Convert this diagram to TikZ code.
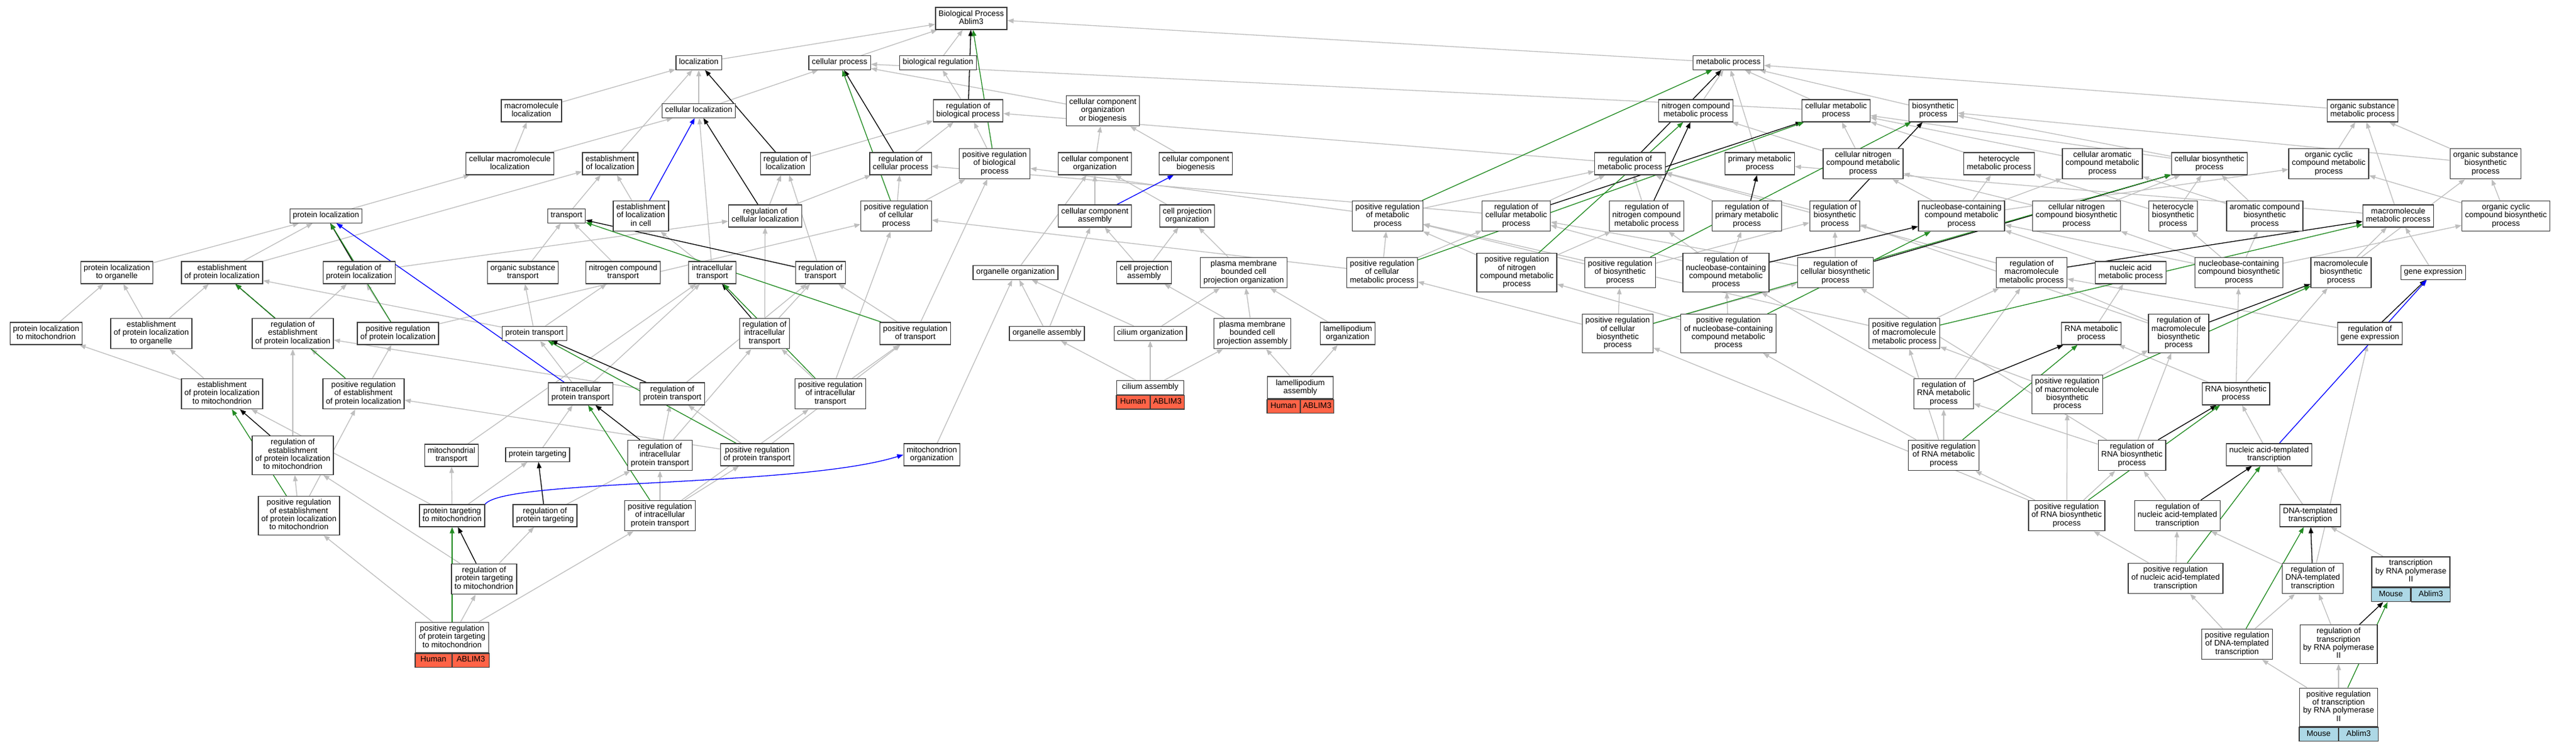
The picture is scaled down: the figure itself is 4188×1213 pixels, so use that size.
\documentclass[tikz,border=0pt]{standalone}
\usepackage{fontspec}
\setmainfont{Liberation Sans}
\usetikzlibrary{arrows.meta}
\pgfdeclarelayer{edges}
\pgfsetlayers{edges,main}

\tikzset{every picture/.style={line width=0.75pt}}
\tikzset{
  term/.style={draw={rgb, 255:red, 60; green, 60; blue, 60 }, fill=white, line width=1.3pt, align=center,
    inner xsep=5pt, inner ysep=4.5pt, font=\fontsize{13}{13.4}\selectfont,
    execute at begin node=\strut, execute at end node=\strut},
  human/.style={term, inner xsep=2pt, minimum height=22pt, fill={rgb, 255:red, 255; green, 99; blue, 71 }},
  mouse/.style={term, inner xsep=2pt, minimum height=22pt, fill={rgb, 255:red, 173; green, 216; blue, 230 }},
  isa/.style={draw={rgb, 255:red, 190; green, 190; blue, 190 }, line width=1.3pt, -{Triangle[length=10pt,width=7.5pt]}},
  regulates/.style={isa, draw=black},
  posreg/.style={isa, draw={rgb, 255:red, 34; green, 139; blue, 34 }},
  partof/.style={isa, draw={rgb, 255:red, 0; green, 0; blue, 255 }},
}

\begin{document}
\begin{tikzpicture}[x=1pt,y=1pt,yscale=-1,xscale=1]
%set diagram size: 4188 x 1213
\useasboundingbox (0,0) rectangle (4188,1213);

% Terms, top row
\node [term] (bp) at (1579,30) {Biological Process\\Ablim3};
% Terms, row 1
\node [term] (loc) at (1136,102) {localization};
\node [term] (cellproc) at (1365,102) {cellular process};
\node [term] (breg) at (1525,102) {biological regulation};
\node [term] (metab) at (2810,102) {metabolic process};
% Terms, row 2
\node [term] (mmloc) at (864,180) {macromolecule\\localization};
\node [term] (cloc) at (1136,180) {cellular localization};
\node [term] (rbp) at (1574,180) {regulation of\\biological process};
\node [term] (ccob) at (1793,180) {cellular component\\organization\\or biogenesis};
\node [term] (ncmp) at (2757,180) {nitrogen compound\\metabolic process};
\node [term] (cmp) at (2985,180) {cellular metabolic\\process};
\node [term] (bsp) at (3143,180) {biosynthetic\\process};
\node [term] (osmp) at (3841,180) {organic substance\\metabolic process};
% Terms, row 3
\node [term] (cmmloc) at (829,266) {cellular macromolecule\\localization};
\node [term] (eloc) at (992,266) {establishment\\of localization};
\node [term] (rloc) at (1277,266) {regulation of\\localization};
\node [term] (rcp) at (1464,266) {regulation of\\cellular process};
\node [term] (prbp) at (1617,266) {positive regulation\\of biological\\process};
\node [term] (cco) at (1780,266) {cellular component\\organization};
\node [term] (ccb) at (1944,266) {cellular component\\biogenesis};
\node [term] (rmp) at (2650,266) {regulation of\\metabolic process};
\node [term] (pmp) at (2861,266) {primary metabolic\\process};
\node [term] (cncmp) at (3029,266) {cellular nitrogen\\compound metabolic\\process};
\node [term] (hmp) at (3250,266) {heterocycle\\metabolic process};
\node [term] (camp) at (3418,266) {cellular aromatic\\compound metabolic\\process};
\node [term] (cbsp) at (3592,266) {cellular biosynthetic\\process};
\node [term] (occmp) at (3786,266) {organic cyclic\\compound metabolic\\process};
\node [term] (osbsp) at (4041,266) {organic substance\\biosynthetic\\process};
% Terms, row 4
\node [term] (ploc) at (530,351) {protein localization};
\node [term] (transport) at (921,351) {transport};
\node [term] (elocc) at (1042,351) {establishment\\of localization\\in cell};
\node [term] (rcloc) at (1244,351) {regulation of\\cellular localization};
\node [term] (prcp) at (1457,351) {positive regulation\\of cellular\\process};
\node [term] (cca) at (1780,351) {cellular component\\assembly};
\node [term] (cpo) at (1930,351) {cell projection\\organization};
\node [term] (prmp) at (2256,351) {positive regulation\\of metabolic\\process};
\node [term] (rcmp) at (2465,351) {regulation of\\cellular metabolic\\process};
\node [term] (rncmp) at (2677,351) {regulation of\\nitrogen compound\\metabolic process};
\node [term] (rpmp) at (2840,351) {regulation of\\primary metabolic\\process};
\node [term] (rbsp) at (2983,351) {regulation of\\biosynthetic\\process};
\node [term] (nccmp) at (3189,351) {nucleobase-containing\\compound metabolic\\process};
\node [term] (cncbsp) at (3376,351) {cellular nitrogen\\compound biosynthetic\\process};
\node [term] (hbsp) at (3533,351) {heterocycle\\biosynthetic\\process};
\node [term] (acbsp) at (3682,351) {aromatic compound\\biosynthetic\\process};
\node [term] (mmmp) at (3899,351) {macromolecule\\metabolic process};
\node [term] (occbsp) at (4074,351) {organic cyclic\\compound biosynthetic\\process};
% Terms, row 5
\node [term] (plocorg) at (190,443) {protein localization\\to organelle};
\node [term] (eploc) at (361,443) {establishment\\of protein localization};
\node [term] (rploc) at (584,443) {regulation of\\protein localization};
\node [term] (ostrans) at (850,443) {organic substance\\transport};
\node [term] (nctrans) at (1013,443) {nitrogen compound\\transport};
\node [term] (ictrans) at (1158,443) {intracellular\\transport};
\node [term] (rtrans) at (1334,443) {regulation of\\transport};
\node [term] (oorg) at (1651,443) {organelle organization};
\node [term] (cpa) at (1860,443) {cell projection\\assembly};
\node [term] (pmbcpo) at (2022,443) {plasma membrane\\bounded cell\\projection organization};
\node [term] (prcmp) at (2247,443) {positive regulation\\of cellular\\metabolic process};
\node [term] (prncmp) at (2466,443) {positive regulation\\of nitrogen\\compound metabolic\\process};
\node [term] (prbsp) at (2634,443) {positive regulation\\of biosynthetic\\process};
\node [term] (rnccmp) at (2806,443) {regulation of\\nucleobase-containing\\compound metabolic\\process};
\node [term] (rcbsp) at (2984,443) {regulation of\\cellular biosynthetic\\process};
\node [term] (rmmp) at (3303,443) {regulation of\\macromolecule\\metabolic process};
\node [term] (namp) at (3464,443) {nucleic acid\\metabolic process};
\node [term] (nccbsp) at (3640,443) {nucleobase-containing\\compound biosynthetic\\process};
\node [term] (mmbsp) at (3806,443) {macromolecule\\biosynthetic\\process};
\node [term] (gexp) at (3956,443) {gene expression};
% Terms, row 6
\node [term] (plocmito) at (75,542) {protein localization\\to mitochondrion};
\node [term] (eplocorg) at (246,542) {establishment\\of protein localization\\to organelle};
\node [term] (reploc) at (476,542) {regulation of\\establishment\\of protein localization};
\node [term] (prploc) at (647,542) {positive regulation\\of protein localization};
\node [term] (ptrans) at (869,542) {protein transport};
\node [term] (rictrans) at (1243,542) {regulation of\\intracellular\\transport};
\node [term] (prtrans) at (1488,542) {positive regulation\\of transport};
\node [term] (oasm) at (1702,542) {organelle assembly};
\node [term] (corg) at (1870,542) {cilium organization};
\node [term] (pmbcpa) at (2036,542) {plasma membrane\\bounded cell\\projection assembly};
\node [term] (lorg) at (2191,542) {lamellipodium\\organization};
\node [term] (prcbsp) at (2630,542) {positive regulation\\of cellular\\biosynthetic\\process};
\node [term] (prnccmp) at (2810,542) {positive regulation\\of nucleobase-containing\\compound metabolic\\process};
\node [term] (prmmp) at (3096,542) {positive regulation\\of macromolecule\\metabolic process};
\node [term] (rnamp) at (3400,542) {RNA metabolic\\process};
\node [term] (rmmbsp) at (3542,542) {regulation of\\macromolecule\\biosynthetic\\process};
\node [term] (rgexp) at (3853,542) {regulation of\\gene expression};
% Terms, row 7
\node [term] (eplocmito) at (361,640) {establishment\\of protein localization\\to mitochondrion};
\node [term] (preploc) at (591,640) {positive regulation\\of establishment\\of protein localization};
\node [term] (icptrans) at (944,640) {intracellular\\protein transport};
\node [term] (rptrans) at (1093,640) {regulation of\\protein transport};
\node [term] (prictrans) at (1350,640) {positive regulation\\of intracellular\\transport};
\node [term] (rrnamp) at (3160,640) {regulation of\\RNA metabolic\\process};
\node [term] (prmmbsp) at (3361,641) {positive regulation\\of macromolecule\\biosynthetic\\process};
\node [term] (rnabsp) at (3635,640) {RNA biosynthetic\\process};
% Terms, row 8
\node [term] (replocmito) at (476,740) {regulation of\\establishment\\of protein localization\\to mitochondrion};
\node [term] (mtrans) at (734,740) {mitochondrial\\transport};
\node [term] (ptarg) at (874,739) {protein targeting};
\node [term] (ricptrans) at (1073,740) {regulation of\\intracellular\\protein transport};
\node [term] (prptrans) at (1231,739) {positive regulation\\of protein transport};
\node [term] (morg) at (1515,739) {mitochondrion\\organization};
\node [term] (prrnamp) at (3160,740) {positive regulation\\of RNA metabolic\\process};
\node [term] (rrnabsp) at (3466,740) {regulation of\\RNA biosynthetic\\process};
\node [term] (natt) at (3689,739) {nucleic acid-templated\\transcription};
% Terms, row 9
\node [term] (preplocmito) at (486,838) {positive regulation\\of establishment\\of protein localization\\to mitochondrion};
\node [term] (ptmito) at (735,838) {protein targeting\\to mitochondrion};
\node [term] (rptarg) at (886,838) {regulation of\\protein targeting};
\node [term] (pricptrans) at (1073,838) {positive regulation\\of intracellular\\protein transport};
\node [term] (prrnabsp) at (3360,838) {positive regulation\\of RNA biosynthetic\\process};
\node [term] (rnatt) at (3540,838) {regulation of\\nucleic acid-templated\\transcription};
\node [term] (dtt) at (3756,838) {DNA-templated\\transcription};
% Terms, rows 10 and 11
\node [term] (rptmito) at (787,941) {regulation of\\protein targeting\\to mitochondrion};
\node [term] (prnatt) at (3537,940) {positive regulation\\of nucleic acid-templated\\transcription};
\node [term] (rdtt) at (3760,940) {regulation of\\DNA-templated\\transcription};
\node [term] (prdtt) at (3637,1047) {positive regulation\\of DNA-templated\\transcription};
\node [term] (rtrp2) at (3802,1047) {regulation of\\transcription\\by RNA polymerase\\II};

% Annotated terms with species and gene cells
\node [term, minimum width=119pt] (prptmito) at (735,1036) {positive regulation\\of protein targeting\\to mitochondrion};
\node [human, minimum width=59.5pt, anchor=north east] (prptmitoS) at (prptmito.south) {Human};
\node [human, minimum width=59.5pt, anchor=north west] (prptmitoG) at (prptmito.south) {ABLIM3};
\node [term, minimum width=109pt] (casm) at (1870,630) {cilium assembly};
\node [human, minimum width=54.5pt, anchor=north east] (casmS) at (casm.south) {Human};
\node [human, minimum width=54.5pt, anchor=north west] (casmG) at (casm.south) {ABLIM3};
\node [term, minimum width=107pt] (lasm) at (2114,630) {lamellipodium\\assembly};
\node [human, minimum width=53.5pt, anchor=north east] (lasmS) at (lasm.south) {Human};
\node [human, minimum width=53.5pt, anchor=north west] (lasmG) at (lasm.south) {ABLIM3};
\node [term, minimum width=127pt] (trp2) at (3919.5,929.5) {transcription\\by RNA polymerase\\II};
\node [mouse, minimum width=63.5pt, anchor=north east] (trp2S) at (trp2.south) {Mouse};
\node [mouse, minimum width=63.5pt, anchor=north west] (trp2G) at (trp2.south) {Ablim3};
\node [term, minimum width=127pt] (prtrp2) at (3802,1149.5) {positive regulation\\of transcription\\by RNA polymerase\\II};
\node [mouse, minimum width=63.5pt, anchor=north east] (prtrp2S) at (prtrp2.south) {Mouse};
\node [mouse, minimum width=63.5pt, anchor=north west] (prtrp2G) at (prtrp2.south) {Ablim3};

\begin{pgfonlayer}{edges}
% is_a connectors, localization side
\draw [isa] (loc) -- (bp);
\draw [isa] (cellproc) -- (bp);
\draw [isa] (breg) -- (bp);
\draw [isa] (metab) -- (bp);
\draw [isa] (rbp) -- (breg);
\draw [isa] (prbp) -- (rbp);
\draw [isa] (mmloc) -- (loc);
\draw [isa] (cloc) -- (loc);
\draw [isa] (cloc) -- (cellproc);
\draw [isa] (cmmloc) -- (mmloc);
\draw [isa] (cmmloc) -- (cloc);
\draw [isa] (eloc) -- (loc);
\draw [isa] (rloc) -- (rbp);
\draw [isa] (ccob) -- (cellproc);
\draw [isa] (rcp) -- (rbp);
\draw [isa] (cco) -- (ccob);
\draw [isa] (ccb) -- (ccob);
\draw [isa] (transport) -- (eloc);
\draw [isa] (elocc) -- (eloc);
\draw [isa] (rcloc) -- (rloc);
\draw [isa] (rcloc) -- (rcp);
\draw [isa] (prcp) -- (rcp);
\draw [isa] (prcp) -- (prbp);
\draw [isa] (cca) -- (cco);
\draw [isa] (cpo) -- (cco);
\draw [isa] (ploc) -- (cmmloc);
\draw [isa] (plocorg) -- (ploc);
\draw [isa] (eploc) -- (ploc);
\draw [isa] (eploc) -- (eloc);
\draw [isa] (rploc) -- (rcloc);
\draw [isa] (ostrans) -- (transport);
\draw [isa] (nctrans) -- (transport);
\draw [isa] (ictrans) -- (elocc);
\draw [isa] (ictrans) -- (cloc);
\draw [isa] (rtrans) -- (rloc);
\draw [isa] (rictrans) -- (rtrans);
\draw [isa] (rictrans) -- (rcloc);
\draw [isa] (ptrans) -- (ostrans);
\draw [isa] (ptrans) -- (nctrans);
\draw [isa] (ptrans) -- (eploc);
\draw [isa] (icptrans) -- (ptrans);
\draw [isa] (icptrans) -- (ictrans);
\draw [isa] (rptrans) -- (rtrans);
\draw [isa] (rptrans) -- (reploc);
\draw [isa] (prtrans) -- (rtrans);
\draw [isa] (prtrans) -- (prbp);
\draw [isa] (prictrans) -- (rictrans);
\draw [isa] (prictrans) -- (prtrans);
\draw [isa] (prictrans) -- (prcp);
\draw [isa] (ptmito) -- (eplocmito);
\draw [isa] (ptmito) -- (mtrans);
\draw [isa] (ptmito) -- (ptarg);
\draw [isa] (ptarg) -- (icptrans);
\draw [isa] (mtrans) -- (ictrans);
\draw [isa] (rptarg) -- (ricptrans);
\draw [isa] (ricptrans) -- (rptrans);
\draw [isa] (ricptrans) -- (rictrans);
\draw [isa] (prptrans) -- (rptrans);
\draw [isa] (prptrans) -- (preploc);
\draw [isa] (prptrans) -- (prtrans);
\draw [isa] (pricptrans) -- (ricptrans);
\draw [isa] (pricptrans) -- (prptrans);
\draw [isa] (pricptrans) -- (prictrans);
\draw [isa] (rptmito) -- (rptarg);
\draw [isa] (rptmito) -- (replocmito);
\draw [isa] (prptmito) -- (rptmito);
\draw [isa] (prptmito) -- (preplocmito);
\draw [isa] (prptmito) -- (pricptrans);
\draw [isa] (eplocmito) -- (plocmito);
\draw [isa] (eplocmito) -- (eplocorg);
\draw [isa] (eplocorg) -- (plocorg);
\draw [isa] (eplocorg) -- (eploc);
\draw [isa] (plocmito) -- (plocorg);
\draw [isa] (reploc) -- (rploc);
\draw [isa] (prploc) -- (rploc);
\draw [isa] (prploc) -- (prcp);
\draw [isa] (preploc) -- (reploc);
\draw [isa] (preploc) -- (prploc);
\draw [isa] (replocmito) -- (reploc);
\draw [isa] (preplocmito) -- (replocmito);
\draw [isa] (preplocmito) -- (preploc);
% is_a connectors, cell component side
\draw [isa] (oorg) -- (cco);
\draw [isa] (oasm) -- (oorg);
\draw [isa] (oasm) -- (cca);
\draw [isa] (corg) -- (oorg);
\draw [isa] (corg) -- (pmbcpo);
\draw [isa] (cpa) -- (cca);
\draw [isa] (cpa) -- (cpo);
\draw [isa] (pmbcpo) -- (cpo);
\draw [isa] (pmbcpa) -- (cpa);
\draw [isa] (pmbcpa) -- (pmbcpo);
\draw [isa] (lorg) -- (pmbcpo);
\draw [isa] (casm) -- (oasm);
\draw [isa] (casm) -- (corg);
\draw [isa] (casm) -- (pmbcpa);
\draw [isa] (lasm) -- (pmbcpa);
\draw [isa] (lasm) -- (lorg);
\draw [isa] (morg) -- (oorg);
% is_a connectors, metabolic side
\draw [isa] (ncmp) -- (metab);
\draw [isa] (cmp) -- (metab);
\draw [isa] (cmp) -- (cellproc);
\draw [isa] (bsp) -- (metab);
\draw [isa] (osmp) -- (metab);
\draw [isa] (pmp) -- (metab);
\draw [isa] (cncmp) -- (ncmp);
\draw [isa] (cncmp) -- (cmp);
\draw [isa] (hmp) -- (cmp);
\draw [isa] (camp) -- (cmp);
\draw [isa] (occmp) -- (osmp);
\draw [isa] (cbsp) -- (bsp);
\draw [isa] (cbsp) -- (cmp);
\draw [isa] (osbsp) -- (osmp);
\draw [isa] (osbsp) -- (bsp);
\draw [isa] (rmp) -- (rbp);
\draw [isa] (prmp) -- (rmp);
\draw [isa] (prmp) -- (prbp);
\draw [isa] (rcmp) -- (rmp);
\draw [isa] (rcmp) -- (rcp);
\draw [isa] (rncmp) -- (rmp);
\draw [isa] (rpmp) -- (rmp);
\draw [isa] (rbsp) -- (rmp);
\draw [isa] (prcmp) -- (rcmp);
\draw [isa] (prcmp) -- (prmp);
\draw [isa] (prcmp) -- (prcp);
\draw [isa] (prncmp) -- (rncmp);
\draw [isa] (prncmp) -- (prmp);
\draw [isa] (prbsp) -- (rbsp);
\draw [isa] (prbsp) -- (prmp);
\draw [isa] (rnccmp) -- (rncmp);
\draw [isa] (rnccmp) -- (rpmp);
\draw [isa] (rnccmp) -- (rcmp);
\draw [isa] (rcbsp) -- (rbsp);
\draw [isa] (rcbsp) -- (rcmp);
\draw [isa] (rmmp) -- (rmp);
\draw [isa] (prcbsp) -- (rcbsp);
\draw [isa] (prcbsp) -- (prbsp);
\draw [isa] (prcbsp) -- (prcmp);
\draw [isa] (prnccmp) -- (rnccmp);
\draw [isa] (prnccmp) -- (prncmp);
\draw [isa] (nccmp) -- (cncmp);
\draw [isa] (nccmp) -- (hmp);
\draw [isa] (nccmp) -- (camp);
\draw [isa] (nccmp) -- (occmp);
\draw [isa] (cncbsp) -- (cncmp);
\draw [isa] (cncbsp) -- (cbsp);
\draw [isa] (hbsp) -- (hmp);
\draw [isa] (hbsp) -- (cbsp);
\draw [isa] (acbsp) -- (cbsp);
\draw [isa] (acbsp) -- (camp);
\draw [isa] (mmmp) -- (osmp);
\draw [isa] (mmmp) -- (pmp);
\draw [isa] (occbsp) -- (occmp);
\draw [isa] (occbsp) -- (osbsp);
\draw [isa] (namp) -- (nccmp);
\draw [isa] (nccbsp) -- (nccmp);
\draw [isa] (nccbsp) -- (hbsp);
\draw [isa] (nccbsp) -- (acbsp);
\draw [isa] (nccbsp) -- (cncbsp);
\draw [isa] (nccbsp) -- (occbsp);
\draw [isa] (mmbsp) -- (mmmp);
\draw [isa] (mmbsp) -- (osbsp);
\draw [isa] (gexp) -- (mmmp);
\draw [isa] (rmmbsp) -- (rmmp);
\draw [isa] (rmmbsp) -- (rbsp);
\draw [isa] (rgexp) -- (rmmp);
\draw [isa] (prmmp) -- (rmmp);
\draw [isa] (prmmp) -- (prmp);
\draw [isa] (rnamp) -- (namp);
\draw [isa] (rrnamp) -- (rnccmp);
\draw [isa] (rrnamp) -- (rmmp);
\draw [isa] (rnabsp) -- (rnamp);
\draw [isa] (rnabsp) -- (nccbsp);
\draw [isa] (rnabsp) -- (mmbsp);
\draw [isa] (natt) -- (rnabsp);
\draw [isa] (dtt) -- (natt);
\draw [isa] (trp2) -- (dtt);
\draw [isa] (prrnamp) -- (rrnamp);
\draw [isa] (prrnamp) -- (prmmp);
\draw [isa] (prrnamp) -- (prnccmp);
\draw [isa] (prmmbsp) -- (rmmbsp);
\draw [isa] (prmmbsp) -- (prmmp);
\draw [isa] (rrnabsp) -- (rmmbsp);
\draw [isa] (rrnabsp) -- (rrnamp);
\draw [isa] (rrnabsp) -- (rcbsp);
\draw [isa] (prrnabsp) -- (rrnabsp);
\draw [isa] (prrnabsp) -- (prmmbsp);
\draw [isa] (prrnabsp) -- (prrnamp);
\draw [isa] (prrnabsp) -- (prcbsp);
\draw [isa] (rnatt) -- (rrnabsp);
\draw [isa] (prnatt) -- (rnatt);
\draw [isa] (prnatt) -- (prrnabsp);
\draw [isa] (rdtt) -- (rnatt);
\draw [isa] (rdtt) -- (rgexp);
\draw [isa] (prdtt) -- (prnatt);
\draw [isa] (prdtt) -- (rdtt);
\draw [isa] (rtrp2) -- (rdtt);
\draw [isa] (prtrp2) -- (rtrp2);
\draw [isa] (prtrp2) -- (prdtt);

% regulates connectors
\draw [regulates] (rbp) -- (bp);
\draw [regulates] (rloc) -- (loc);
\draw [regulates] (rcloc) -- (cloc);
\draw [regulates] (rcp) -- (cellproc);
\draw [regulates] (rploc) -- (ploc);
\draw [regulates] (reploc) -- (eploc);
\draw [regulates] (rictrans) -- (ictrans);
\draw [regulates] (rtrans) -- (transport);
\draw [regulates] (rptrans) -- (ptrans);
\draw [regulates] (ricptrans) -- (icptrans);
\draw [regulates] (rptarg) -- (ptarg);
\draw [regulates] (rptmito) -- (ptmito);
\draw [regulates] (replocmito) -- (eplocmito);
\draw [regulates] (rmp) -- (metab);
\draw [regulates] (rncmp) -- (ncmp);
\draw [regulates] (rcmp) -- (cmp);
\draw [regulates] (rpmp) -- (pmp);
\draw [regulates] (rbsp) -- (bsp);
\draw [regulates] (rcbsp) -- (cbsp);
\draw [regulates] (rnccmp) -- (nccmp);
\draw [regulates] (rmmp) -- (mmmp);
\draw [regulates] (rmmbsp) -- (mmbsp);
\draw [regulates] (rgexp) -- (gexp);
\draw [regulates] (rrnamp) -- (rnamp);
\draw [regulates] (rrnabsp) -- (rnabsp);
\draw [regulates] (rnatt) -- (natt);
\draw [regulates] (rdtt) -- (dtt);
\draw [regulates] (rtrp2) -- (trp2S);

% positively regulates connectors
\draw [posreg] (prbp) -- (bp);
\draw [posreg] (prcp) -- (cellproc);
\draw [posreg] (prploc) -- (ploc);
\draw [posreg] (preploc) -- (eploc);
\draw [posreg] (preplocmito) -- (eplocmito);
\draw [posreg] (prptrans) -- (ptrans);
\draw [posreg] (pricptrans) -- (icptrans);
\draw [posreg] (prictrans) -- (ictrans);
\draw [posreg] (prtrans) -- (transport);
\draw [posreg] (prptmito) -- (ptmito);
\draw [posreg] (prmp) -- (metab);
\draw [posreg] (prncmp) -- (ncmp);
\draw [posreg] (prcmp) -- (cmp);
\draw [posreg] (prbsp) -- (bsp);
\draw [posreg] (prcbsp) -- (cbsp);
\draw [posreg] (prnccmp) -- (nccmp);
\draw [posreg] (prmmp) -- (mmmp);
\draw [posreg] (prmmbsp) -- (mmbsp);
\draw [posreg] (prrnamp) -- (rnamp);
\draw [posreg] (prrnabsp) -- (rnabsp);
\draw [posreg] (prnatt) -- (natt);
\draw [posreg] (prdtt) -- (dtt);
\draw [posreg] (prtrp2) -- (trp2S);

% part_of connectors
\draw [partof] (elocc) -- (cloc);
\draw [partof] (cca) -- (ccb);
\draw [partof] (icptrans) -- (ploc);
\draw [partof] (ptmito.north east) .. controls (820,778) and (1300,792) .. (morg.west);
\draw [partof] (natt) -- (gexp);
\end{pgfonlayer}

\end{tikzpicture}
\end{document}
